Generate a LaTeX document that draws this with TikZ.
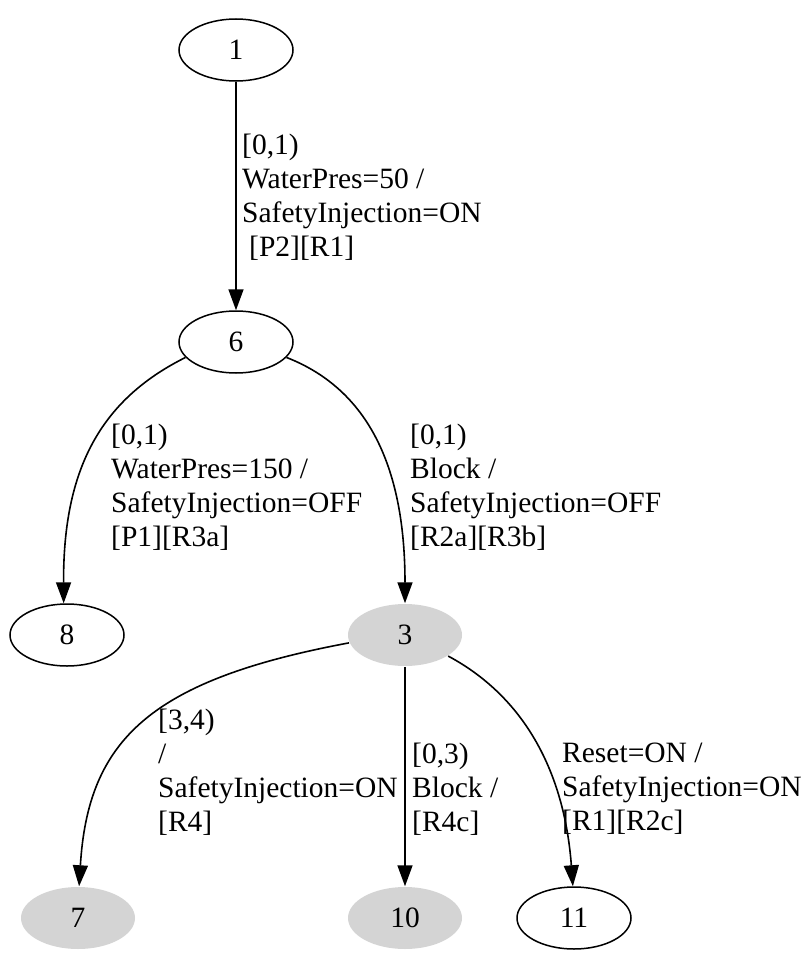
\documentclass[tikz,border=0pt]{standalone}
\usepackage{fontspec}
\setmainfont{Liberation Serif}
\usetikzlibrary{shapes.geometric,arrows.meta}
\begin{document}
\begin{tikzpicture}[x=1pt,y=-1pt,
  state/.style={ellipse,draw=black,line width=1.5pt,minimum width=114pt,minimum height=62pt,inner sep=0pt,font=\fontsize{29.5}{34}\selectfont},
  grey/.style={state,draw=none,fill=black!17},
  edge/.style={line width=1.6pt,-{Triangle[length=21pt,width=15pt]}},
  lbl/.style={anchor=north west,align=left,inner sep=0pt,font=\fontsize{29.5}{34}\selectfont}]
\useasboundingbox (0,0) rectangle (810,958);
\node[state] (n1) at (236,50) {1};
\node[state] (n6) at (236,342) {6};
\node[state] (n8) at (67,635) {8};
\node[grey] (n3) at (405,635) {3};
\node[grey] (n7) at (78,918) {7};
\node[grey] (n10) at (405,918) {10};
\node[state] (n11) at (574,918) {11};
\draw[edge] (n1) -- (n6);
\draw[edge] (n6.197) .. controls (100,400) and (63,470) .. (n8.96);
\draw[edge] (n6.343) .. controls (370,390) and (405,470) .. (n3.north);
\draw[edge] (n3.188) .. controls (150,680) and (88,740) .. (n7.88);
\draw[edge] (n3) -- (n10);
\draw[edge] (n3.334) .. controls (530,700) and (565,780) .. (n11.92);
\node[lbl] (l1) at (242,134) {[0,1)\\WaterPres=50 /\\SafetyInjection=ON\\\hspace*{7pt}[P2][R1]};
\node[lbl] (l2) at (111,424) {[0,1)\\WaterPres=150 /\\SafetyInjection=OFF\\[0pt][P1][R3a]};
\node[lbl] (l3) at (410,424) {[0,1)\\Block /\\SafetyInjection=OFF\\[0pt][R2a][R3b]};
\node[lbl] (l4) at (158,709) {[3,4)\\/\\SafetyInjection=ON\\[0pt][R4]};
\node[lbl] (l5) at (412,743) {[0,3)\\Block /\\[0pt][R4c]};
\node[lbl] (l6) at (562,743) {Reset=ON /\\SafetyInjection=ON\\[0pt][R1][R2c]};
\end{tikzpicture}
\end{document}
